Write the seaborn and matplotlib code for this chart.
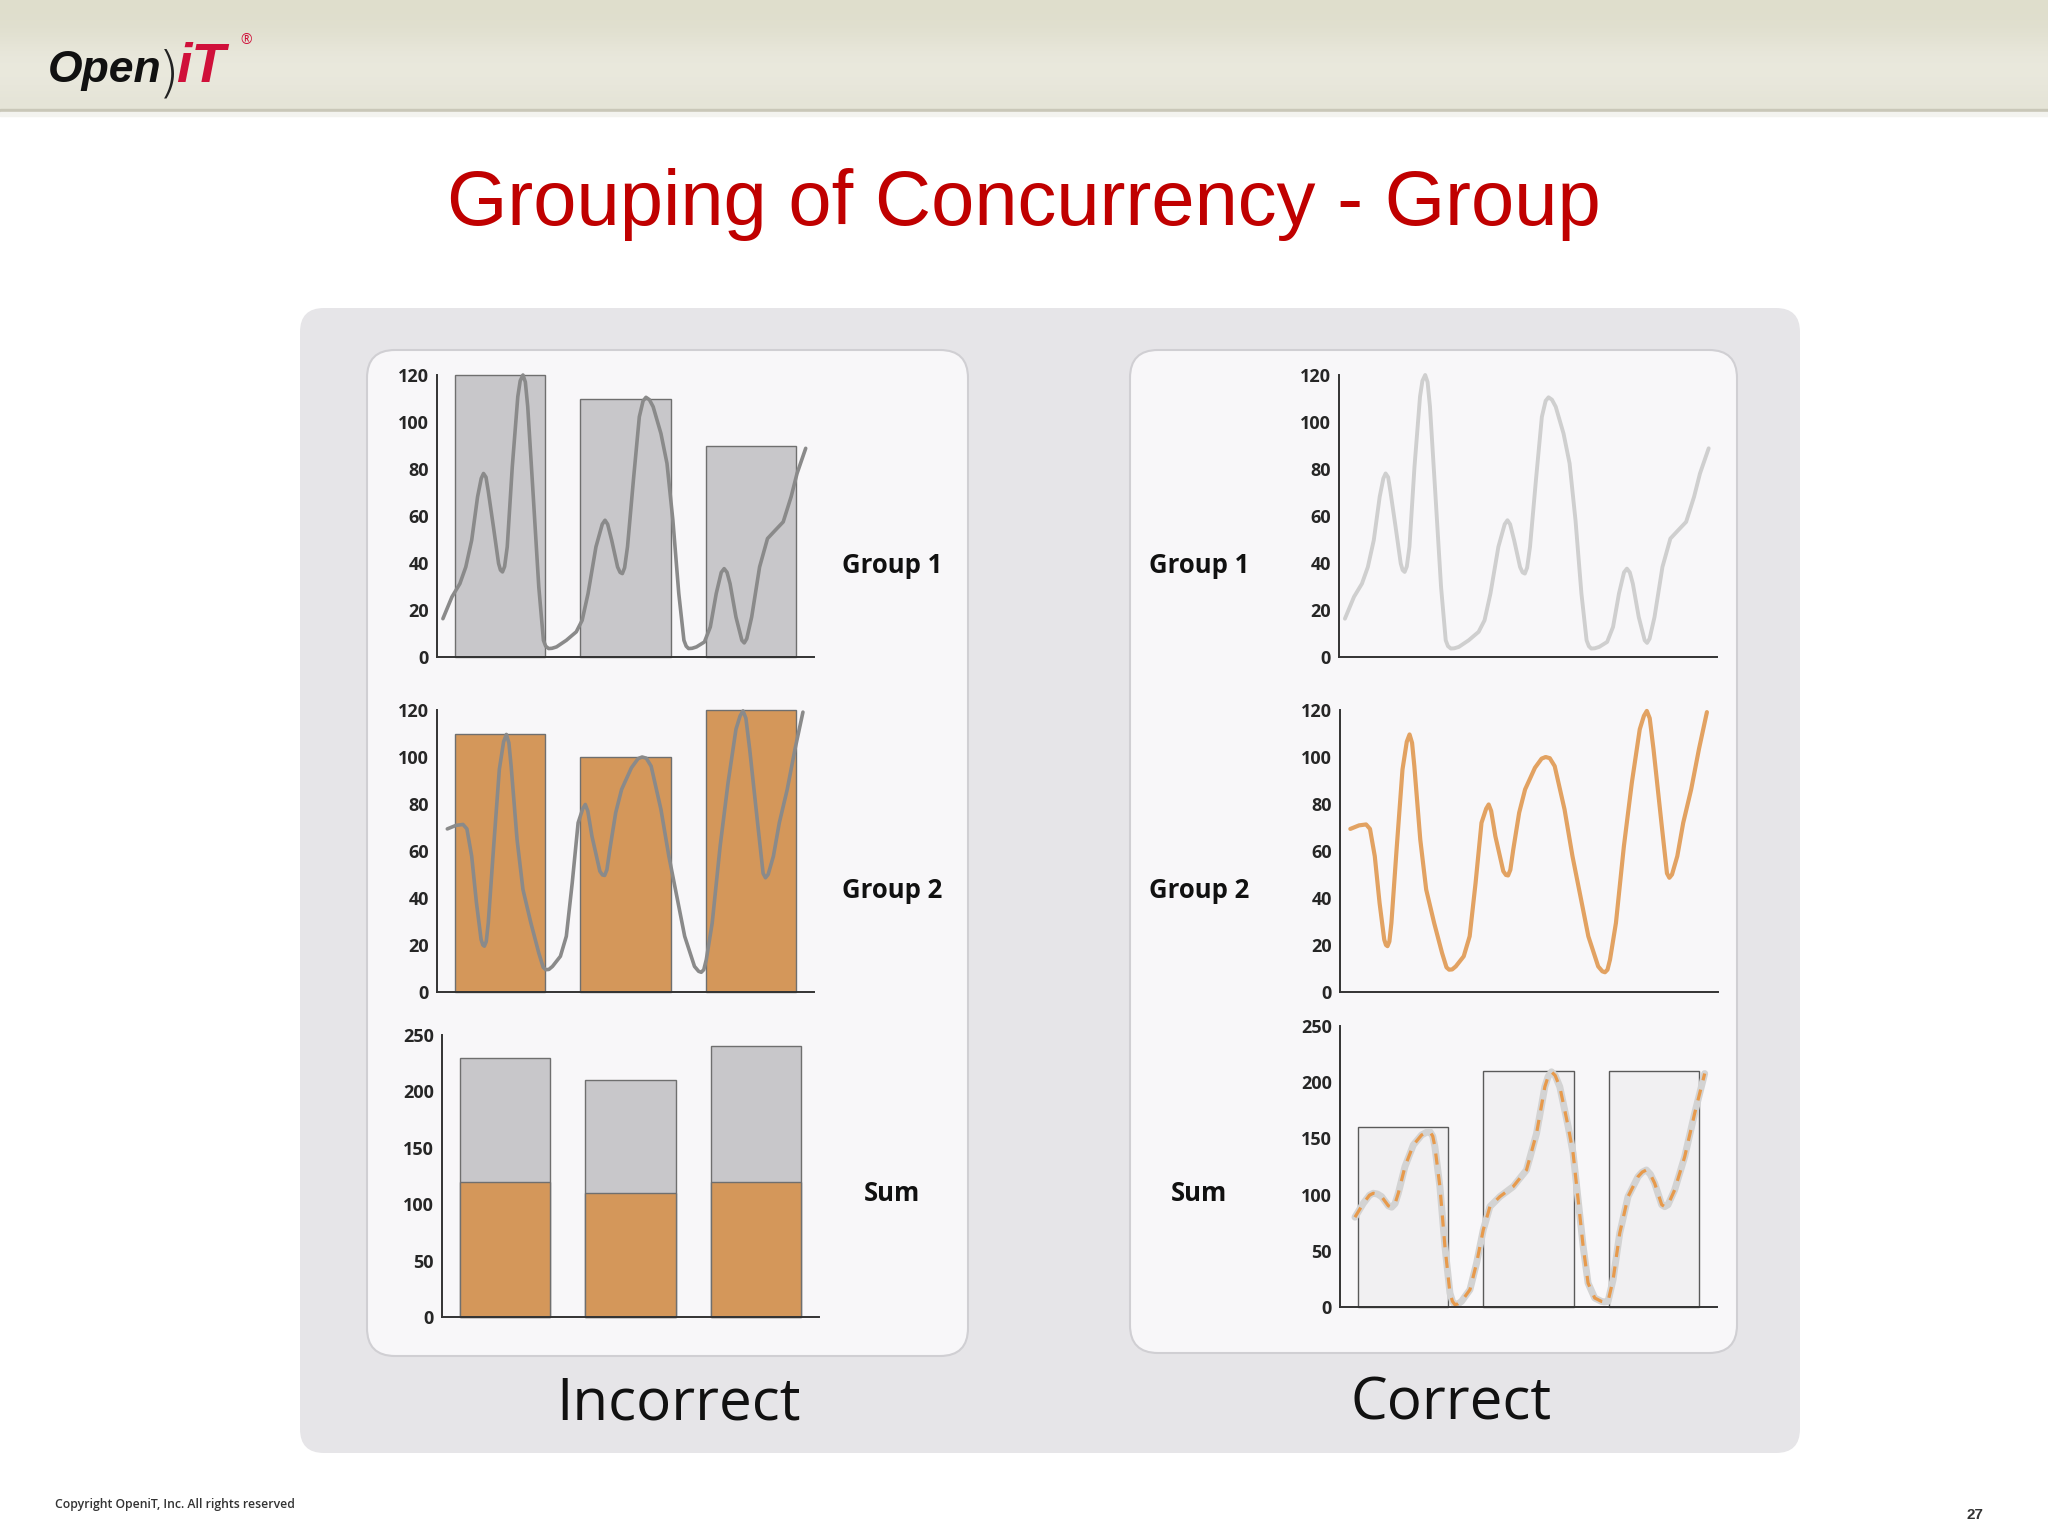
import numpy as np
import matplotlib
matplotlib.use("Agg")
import matplotlib.pyplot as plt
from matplotlib.patches import FancyBboxPatch, Rectangle
import seaborn as sns

# ---- data ----
periods = [1, 2, 3]

# peak per period (bars in the "Incorrect" panel)
g1_peaks = [120, 110, 90]
g2_peaks = [110, 100, 120]
sum_orange = [120, 110, 120]
sum_total = [230, 210, 240]
# peak of the summed curve per period ("Correct" panel)
sum_peaks = [160, 210, 210]

# curves, x measured in periods from the y axis (0..3)
g1_x = [0.047, 0.119, 0.182, 0.229, 0.276, 0.323, 0.352, 0.370, 0.390, 0.408, 0.449,
        0.490, 0.505, 0.521, 0.538, 0.559, 0.599, 0.643, 0.662, 0.684, 0.703, 0.722,
        0.763, 0.810, 0.847, 0.865, 0.888, 0.915, 0.951, 1.029, 1.108, 1.155, 1.202,
        1.265, 1.315, 1.337, 1.358, 1.390, 1.437, 1.457, 1.475, 1.493, 1.516, 1.563,
        1.610, 1.640, 1.663, 1.690, 1.720, 1.782, 1.830, 1.877, 1.924, 1.965, 1.983,
        2.002, 2.030, 2.065, 2.128, 2.175, 2.222, 2.262, 2.285, 2.308, 2.332, 2.379,
        2.426, 2.445, 2.465, 2.504, 2.567, 2.630, 2.693, 2.755, 2.818, 2.865, 2.934]
g1_y = [16.3, 25.6, 31.2, 38.3, 49.7, 68.2, 76.0, 78.1, 76.5, 70.5, 55.4,
        39.8, 37.0, 36.2, 38.5, 46.9, 80.9, 110.8, 117.5, 120.0, 117.0, 106.5,
        71.0, 29.8, 7.1, 4.6, 3.6, 3.7, 4.3, 7.1, 10.7, 15.6, 27.0,
        46.9, 56.5, 58.2, 56.5, 49.7, 38.3, 36.0, 35.5, 38.0, 46.9, 75.3,
        102.2, 109.0, 110.5, 109.5, 106.5, 95.1, 82.4, 58.2, 27.0, 7.1, 4.6,
        3.6, 3.7, 4.3, 6.4, 12.8, 27.0, 36.0, 37.6, 36.0, 31.2, 17.0,
        7.1, 6.0, 7.8, 17.0, 38.3, 50.4, 54.0, 57.5, 68.2, 78.1, 88.8]

g2_x = [0.082, 0.151, 0.207, 0.238, 0.276, 0.314, 0.351, 0.365, 0.377, 0.392, 0.408,
        0.449, 0.496, 0.530, 0.552, 0.572, 0.590, 0.637, 0.684, 0.747, 0.810, 0.845,
        0.866, 0.890, 0.919, 0.982, 1.029, 1.076, 1.123, 1.160, 1.180, 1.200, 1.233,
        1.296, 1.317, 1.334, 1.352, 1.375, 1.422, 1.469, 1.547, 1.600, 1.632, 1.665,
        1.704, 1.782, 1.845, 1.908, 1.971, 2.049, 2.082, 2.103, 2.123, 2.143, 2.190,
        2.253, 2.316, 2.379, 2.412, 2.435, 2.458, 2.488, 2.551, 2.595, 2.614, 2.635,
        2.677, 2.724, 2.787, 2.849, 2.912]
g2_y = [69.4, 70.9, 71.3, 69.4, 57.8, 37.9, 22.3, 20.0, 19.5, 21.5, 29.4,
        60.6, 94.7, 106.5, 109.6, 106.0, 96.1, 64.9, 43.6, 29.4, 16.6, 10.5,
        9.5, 9.6, 10.9, 15.2, 23.7, 46.4, 72.0, 78.0, 79.8, 77.0, 66.3,
        51.4, 49.8, 49.6, 52.0, 60.6, 76.3, 86.2, 95.4, 99.3, 100.0, 99.5,
        96.1, 77.7, 57.8, 40.8, 23.7, 10.9, 8.8, 8.4, 9.5, 13.8, 29.4,
        62.0, 89.0, 111.8, 117.5, 119.6, 116.5, 103.4, 72.0, 50.5, 48.6, 50.0,
        57.8, 72.0, 86.2, 103.4, 119.1]

sum_x = [0.119, 0.186, 0.235, 0.265, 0.298, 0.331, 0.385, 0.411, 0.438, 0.464, 0.517,
         0.583, 0.649, 0.690, 0.716, 0.738, 0.755, 0.795, 0.835, 0.875, 0.895, 0.914,
         0.940, 0.967, 1.034, 1.087, 1.140, 1.193, 1.272, 1.378, 1.484, 1.564, 1.630,
         1.656, 1.683, 1.712, 1.749, 1.816, 1.855, 1.895, 1.935, 1.974, 2.027, 2.080,
         2.105, 2.133, 2.173, 2.226, 2.292, 2.372, 2.405, 2.438, 2.470, 2.504, 2.560,
         2.584, 2.610, 2.663, 2.743, 2.822, 2.902]
sum_y = [79.9, 92.3, 99.5, 101.2, 100.5, 98.2, 90.0, 88.8, 92.0, 101.2, 124.9,
         144.1, 153.0, 155.5, 155.9, 152.0, 142.6, 107.1, 53.8, 12.4, 5.0, 2.1,
         2.8, 5.0, 15.4, 39.1, 68.6, 89.3, 98.2, 107.1, 121.9, 154.4, 195.9,
         205.0, 209.2, 206.0, 195.9, 160.4, 136.7, 95.3, 53.8, 21.3, 8.0, 5.0,
         4.5, 5.0, 24.3, 65.7, 98.2, 116.0, 120.0, 121.9, 118.0, 110.1, 91.0,
         89.3, 91.0, 104.1, 133.7, 172.2, 207.7]

title = "Grouping of Concurrency - Group"
row_labels = ["Group 1", "Group 2", "Sum"]
panel_titles = ["Incorrect", "Correct"]

# colours
GRAY_BAR = "#C8C7CA"
ORANGE = "#D4975A"
DARK_LINE = "#8A8A8A"
LIGHT_LINE = "#CFCFCF"
ORANGE_LINE = "#E2A262"

sns.set_style("white")
plt.rcParams["font.family"] = ["Open Sans", "DejaVu Sans"]

W, H = 2048, 1536
fig = plt.figure(figsize=(W / 100, H / 100), dpi=100, facecolor="white")

# background drawn in pixel coordinates
bg = fig.add_axes([0, 0, 1, 1], zorder=-10)
bg.set_xlim(0, W)
bg.set_ylim(H, 0)
bg.axis("off")

grad = np.array([[223, 222, 204], [225, 224, 208], [233, 232, 220],
                 [234, 233, 222], [229, 228, 215]], dtype=float) / 255
bg.imshow(grad[:, None, :], extent=[0, W, 110, 0], aspect="auto", interpolation="bicubic")
bg.add_patch(Rectangle((0, 109), W, 3, color="#C9C7B8"))
bg.add_patch(Rectangle((0, 112), W, 4, color="#F3F3EF"))

bg.add_patch(FancyBboxPatch((300, 308), 1500, 1145, boxstyle="round,pad=0,rounding_size=24",
                            fc="#E6E5E8", ec="none"))
for x0, w, h in [(367, 601, 1006), (1130, 607, 1003)]:
    bg.add_patch(FancyBboxPatch((x0, 350), w, h, boxstyle="round,pad=0,rounding_size=28",
                                fc="#F8F7F9", ec="#D0CFD3", lw=1.5))

# logo
logo_font = ["Liberation Sans"]
bg.text(48, 82, "Open", fontsize=32, fontweight="bold", fontstyle="italic", color="#111111",
        family=logo_font, va="baseline")
bg.text(158, 90, ")", fontsize=40, fontweight="light", color="#222222",
        family=["DejaVu Sans"], va="baseline")
bg.text(176, 82, "iT", fontsize=40, fontweight="bold", fontstyle="italic", color="#D0103A",
        family=logo_font, va="baseline")
bg.text(240, 44, "®", fontsize=10, color="#D0103A", va="baseline")

bg.text(1024, 225, title, fontsize=56, color="#C00000", ha="center", va="baseline",
        family=["Liberation Sans"])

for cx, lab in zip([679, 1451], panel_titles):
    bg.text(cx, 1420, lab, fontsize=42, color="#111111", ha="center", va="baseline")

for base, lab in zip([573, 898, 1201], row_labels):
    for cx in [892, 1199]:
        bg.text(cx, base, lab, fontsize=18.5, fontweight="bold", color="#111111",
                ha="center", va="baseline")

bg.text(55, 1508, "Copyright OpeniT, Inc. All rights reserved", fontsize=8.8,
        fontweight="semibold", color="#333333", va="baseline")
bg.text(1975, 1519, "27", fontsize=11, fontweight="bold", color="#333333", ha="center",
        va="baseline", family=["Liberation Sans"])


def chart_axes(x0, y_top, x1, y_bot):
    return fig.add_axes([x0 / W, 1 - y_bot / H, (x1 - x0) / W, (y_bot - y_top) / H])


def style(ax, ymax, step):
    ax.set_facecolor("none")
    ax.set_xlim(0.5, 3.5)
    ax.set_ylim(0, ymax)
    ax.set_yticks(range(0, ymax + 1, step))
    ax.set_xticks([1.5, 2.5, 3.5])
    ax.set_xticklabels([])
    ax.set_xlabel("")
    ax.set_ylabel("")
    for s in ["top", "right"]:
        ax.spines[s].set_visible(False)
    for s in ["left", "bottom"]:
        ax.spines[s].set_color("#333333")
        ax.spines[s].set_linewidth(1.4)
    ax.tick_params(axis="y", direction="in", length=9, width=1.4, color="#333333",
                   labelsize=13, pad=6)
    ax.tick_params(axis="x", direction="in", length=8, width=1.4, color="#333333")
    plt.setp(ax.get_yticklabels(), fontweight="bold")
    for art in ax.lines + ax.patches:
        art.set_clip_on(False)


def bars(ax, vals, color, edge="#6F6F6F"):
    sns.barplot(x=periods, y=vals, ax=ax, native_scale=True, width=0.72, color=color,
                saturation=1, edgecolor=edge, linewidth=1.0)


def curve(ax, xs, ys, color, lw, **kw):
    # the axis starts half a period before period 1
    sns.lineplot(x=np.array(xs) + 0.5, y=ys, ax=ax, color=color, linewidth=lw,
                 estimator=None, solid_capstyle="round", **kw)


# Incorrect panel
ax = chart_axes(437, 375, 814, 657)
bars(ax, g1_peaks, GRAY_BAR)
curve(ax, g1_x, g1_y, DARK_LINE, 2.6)
style(ax, 120, 20)

ax = chart_axes(437, 710, 814, 992)
bars(ax, g2_peaks, ORANGE)
curve(ax, g2_x, g2_y, DARK_LINE, 2.6)
style(ax, 120, 20)

ax = chart_axes(442, 1035, 819, 1317)
bars(ax, sum_total, GRAY_BAR)
bars(ax, sum_orange, ORANGE)
style(ax, 250, 50)

# Correct panel
ax = chart_axes(1339, 375, 1717, 657)
curve(ax, g1_x, g1_y, LIGHT_LINE, 2.8)
style(ax, 120, 20)

ax = chart_axes(1340, 710, 1718, 992)
curve(ax, g2_x, g2_y, ORANGE_LINE, 3.0)
style(ax, 120, 20)

ax = chart_axes(1340, 1026, 1717, 1307)
bars(ax, sum_peaks, "#F1F0F2", edge="#5A5A5A")
curve(ax, sum_x, sum_y, "#D3D3D3", 5.0)
curve(ax, sum_x, sum_y, "#E79A4C", 2.3, linestyle=(0, (3.5, 3.0)))
style(ax, 250, 50)

fig.savefig("out.png", dpi=100, facecolor="white")
